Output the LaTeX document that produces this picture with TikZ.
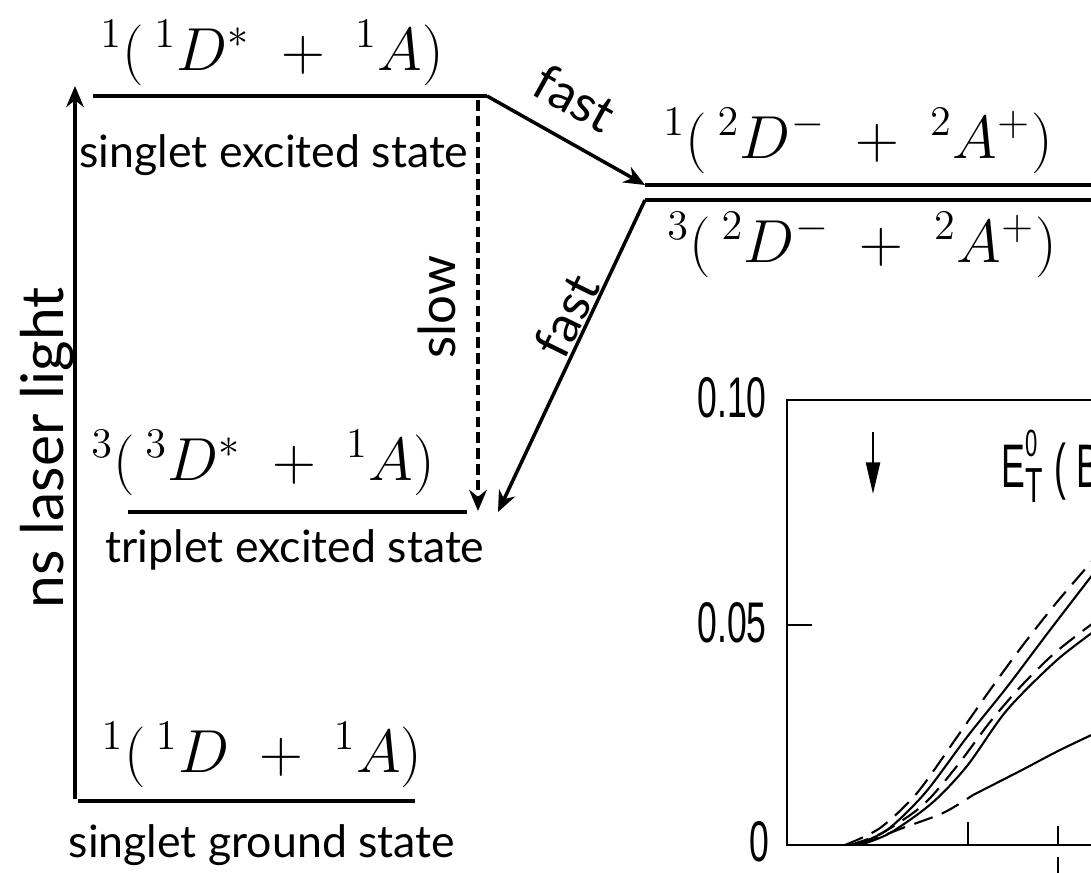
\documentclass[tikz,border=0pt]{standalone}
\usepackage{amsmath}
\usepackage{fontspec}
\newfontfamily\labelfont{Lato}
\newfontfamily\plotfont{Liberation Sans}
\usetikzlibrary{arrows.meta,positioning}

\begin{document}
\begin{tikzpicture}[
	x=0.01cm, y=-0.01cm,
	every node/.style={inner sep=0pt},
	level/.style={line width=1.2pt},
	term/.style={font=\fontsize{18}{20}\selectfont, anchor=base},
	statename/.style={font=\labelfont\fontsize{12.7}{14}\selectfont, anchor=base},
	rate/.style={font=\labelfont\fontsize{14.5}{16}\selectfont, anchor=base},
	arrow/.style={-{Stealth[length=6pt,width=5pt]}, line width=1pt},
	slowarrow/.style={arrow, dash pattern=on 3pt off 1.5pt},
	axis/.style={line width=0.65pt},
	curve/.style={line width=0.6pt},
	dcurve/.style={curve, dash pattern=on 5.5pt off 2.8pt},
	ticklabel/.style={font=\plotfont\fontsize{16.3}{18}\selectfont, xscale=0.62}
	]
	
	\useasboundingbox (0,0) rectangle (1091,872);
	\clip (0,0) rectangle (1091,872);
	
	% energy levels
	\coordinate (s1a) at (93,96);   \coordinate (s1b) at (487,96);
	\coordinate (t1a) at (128,512); \coordinate (t1b) at (467,512);
	\coordinate (s0a) at (78,801);  \coordinate (s0b) at (415,801);
	\coordinate (ct1a) at (645,185); \coordinate (ct1b) at (1100,185);
	\coordinate (ct3a) at (645,200); \coordinate (ct3b) at (1100,200);
	
	\draw[level] (s1a) -- (s1b);
	\draw[level] (t1a) -- (t1b);
	\draw[level] (s0a) -- (s0b);
	\draw[level] (ct1a) -- (ct1b);
	\draw[level] (ct3a) -- (ct3b);
	
	\node[term] (s1term) at (272,70) {${}^1(\,{}^1D^*\;+\;{}^1A)$};
	\node[term] (t1term) at (263,480) {${}^3(\,{}^3D^*\;+\;{}^1A)$};
	\node[term] (s0term) at (262,772) {${}^1(\,{}^1D\;+\;{}^1A)$};
	\node[term] (ct1term) at (858,158) {${}^1(\,{}^2D^-\;+\;{}^2A^+)$};
	\node[term] (ct3term) at (862,262) {${}^3(\,{}^2D^-\;+\;{}^2A^+)$};
	
	\node[statename] (s1name) at (274,167) {singlet excited state};
	\node[statename] (t1name) at (295,562) {triplet excited state};
	\node[statename] (s0name) at (262,857) {singlet ground state};
	
	% transitions
	\coordinate (lasbot) at (75,799);
	\coordinate (lastop) at (75,86);
	\coordinate (slowtop) at (478,100);
	\coordinate (slowbot) at (478,511);
	\coordinate (t1hit) at (498,512);
	
	\draw[arrow] (lasbot) -- (lastop);
	\draw[slowarrow] (slowtop) -- (slowbot);
	\draw[arrow] (s1b) -- (ct1a);
	\draw[arrow] (ct3a) -- (t1hit);
	
	\node[rate, font=\labelfont\fontsize{16.7}{18}\selectfont, rotate=90] (laser) at (63,448) {ns laser light};
	\node[rate, rotate=90] (slowlab) at (455,307) {slow};
	\node[rate, rotate=-29] (fast1lab) at (566,114) {fast};
	\node[rate, rotate=64] (fast2lab) at (583,324) {fast};
	
	% plot
	\draw[axis] (1100,400) -- (787,400) -- (787,845) -- (1100,845);
	\draw[axis] (787,625) -- (812,625);
	\draw[axis] (968,845) -- (968,822);
	\draw[axis] (1058,845) -- (1058,826);
	\draw[axis] (1058,857) -- (1058,880);
	
	\node[ticklabel] (y10) at (732,398) {0.10};
	\node[ticklabel] (y05) at (732,623) {0.05};
	\node[ticklabel] (y00) at (759,842) {0};
	
	\draw[axis, -{Triangle[length=9pt,width=4pt]}] (873,432) -- (873,494);
	\node[font=\plotfont\fontsize{17.5}{18}\selectfont, xscale=0.58, anchor=base west] (etlab) at (1001,487)
		{E\rlap{\raisebox{0.5em}{\fontsize{10.8}{11}\selectfont 0}}\raisebox{-0.25em}{\fontsize{14}{14}\selectfont T}\hspace{6pt}(\hspace{5pt}B};
	
	\draw[dcurve] plot[smooth] coordinates {(845,845) (880,828) (917,793) (957,737) (990,690) (1023,645) (1057,602) (1100,552)};
	\draw[curve] plot[smooth] coordinates {(855,845) (887,830) (925,793) (967,737) (1007,687) (1050,630) (1100,565)};
	\draw[dcurve] plot[smooth] coordinates {(850,845) (882,833) (923,805) (957,766) (990,722) (1023,684) (1057,651) (1100,618)};
	\draw[curve] plot[smooth] coordinates {(860,845) (890,833) (932,803) (967,766) (1007,710) (1057,660) (1100,627)};
	\draw[dcurve] plot[smooth] coordinates {(860,845) (900,829) (943,813) (973,795)};
	\draw[curve] plot[smooth] coordinates {(973,795) (1020,771) (1060,750) (1100,731)};
	
\end{tikzpicture}
\end{document}
